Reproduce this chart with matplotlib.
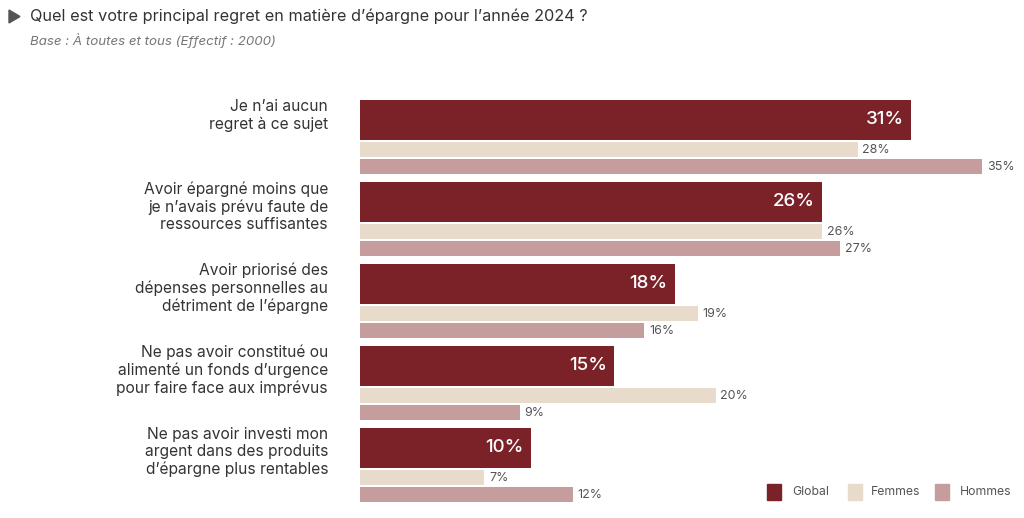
import matplotlib.pyplot as plt
from matplotlib.patches import Rectangle, Polygon

plt.rcParams['font.family'] = ['Inter', 'DejaVu Sans']

# -- Data --
categories = [
    "Je n\u2019ai aucun\nregret \u00e0 ce sujet",
    "Avoir \u00e9pargn\u00e9 moins que\nje n\u2019avais pr\u00e9vu faute de\nressources suffisantes",
    "Avoir prioris\u00e9 des\nd\u00e9penses personnelles au\nd\u00e9triment de l\u2019\u00e9pargne",
    "Ne pas avoir constitu\u00e9 ou\naliment\u00e9 un fonds d\u2019urgence\npour faire face aux impr\u00e9vus",
    "Ne pas avoir investi mon\nargent dans des produits\nd\u2019\u00e9pargne plus rentables",
]
# global bar lengths as drawn in the source (labels are the rounded figures shown)
global_vals = [31, 26, 17.7, 14.3, 9.6]
global_labels = ["31%", "26%", "18%", "15%", "10%"]
femmes_vals = [28, 26, 19, 20, 7]
hommes_vals = [35, 27, 16, 9, 12]
series_names = ["Global", "Femmes", "Hommes"]

C_GLOBAL = '#7b2229'
C_FEMMES = '#e9dbcb'
C_HOMMES = '#c59d9d'
TXT = '#333333'

W, H = 1024, 518
fig = plt.figure(figsize=(W / 100, H / 100), dpi=100)

# axes in pixel-like units: x from 360px to 1020px, y from 90px to 510px
x0, x1 = 360, 1020
y0, y1 = 90, 510
ax = fig.add_axes([x0 / W, 1 - y1 / H, (x1 - x0) / W, (y1 - y0) / H])
px_per_pct = 17.78
ax.set_xlim(0, (x1 - x0) / px_per_pct)
ax.set_ylim(y1, y0)
ax.axis('off')

pitch = 82
for i, cat in enumerate(categories):
    top = 100 + i * pitch
    ax.barh(top + 20, global_vals[i], height=40, color=C_GLOBAL, left=0)
    ax.barh(top + 49.5, femmes_vals[i], height=15, color=C_FEMMES, left=0)
    ax.barh(top + 66.5, hommes_vals[i], height=15, color=C_HOMMES, left=0)

    ax.text(global_vals[i] - 0.4, top + 20, global_labels[i], color='white',
            fontsize=13.5, fontweight='medium', ha='right', va='center')
    ax.text(femmes_vals[i] + 0.25, top + 50, f"{femmes_vals[i]}%", color='#555555',
            fontsize=9, ha='left', va='center')
    ax.text(hommes_vals[i] + 0.25, top + 67, f"{hommes_vals[i]}%", color='#555555',
            fontsize=9, ha='left', va='center')

    fig.text(328 / W, 1 - (top - 1) / H, cat, ha='right', va='top',
             fontsize=11.2, color=TXT, linespacing=1.2)

# -- Title --
fig.patches.append(Polygon([[9 / W, 1 - 10 / H], [9 / W, 1 - 23 / H], [20 / W, 1 - 16.5 / H]],
                           closed=True, transform=fig.transFigure, color='#555555'))
fig.text(30 / W, 1 - 16 / H,
         "Quel est votre principal regret en mati\u00e8re d\u2019\u00e9pargne pour l\u2019ann\u00e9e 2024 ?",
         fontsize=11.7, color=TXT, va='center', ha='left')
fig.text(30 / W, 1 - 40 / H, "Base : \u00c0 toutes et tous (Effectif : 2000)",
         fontsize=9.6, color='#777777', style='italic', va='center', ha='left')

# -- Legend --
leg_items = [(767, 792, C_GLOBAL), (848, 871, C_FEMMES), (935, 960, C_HOMMES)]
for (sx, tx, col), name in zip(leg_items, series_names):
    fig.patches.append(Rectangle((sx / W, 1 - 500 / H), 14 / W, 16 / H,
                                 transform=fig.transFigure, color=col))
    fig.text(tx / W, 1 - 492 / H, name, fontsize=8.8, color='#555555',
             va='center', ha='left')

fig.savefig('out.png', dpi=100)
